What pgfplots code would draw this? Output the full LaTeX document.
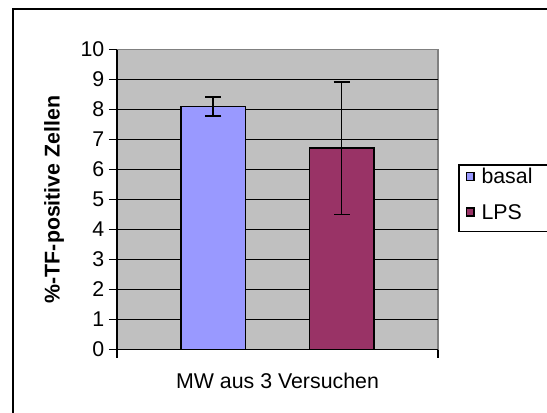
\documentclass[border=0pt]{standalone}
\usepackage{pgfplots}
\pgfplotsset{compat=1.18}
\usepackage{fontspec}
\setmainfont{Liberation Sans}
\definecolor{plotgray}{HTML}{C0C0C0}
\definecolor{framegray}{HTML}{808080}
\definecolor{basalc}{HTML}{9999FF}
\definecolor{lpsc}{HTML}{993366}
\begin{document}
\begin{tikzpicture}
\useasboundingbox (0,0) rectangle (410.25pt,309pt);
\clip (0,0) rectangle (410.25pt,309pt);
\fill[white] (0,0) rectangle (410.25pt,309pt);
\draw[line width=1.4pt] (13.3*0.75pt,-20pt) -- (13.3*0.75pt,402.7*0.75pt) -- (430pt,402.7*0.75pt);
\draw[line width=1.1pt] (430pt,247*0.75pt) -- (458.8*0.75pt,247*0.75pt) -- (458.8*0.75pt,180.3*0.75pt) -- (430pt,180.3*0.75pt);
\begin{axis}[
  at={(87.75pt,46.875pt)}, anchor=south west,
  scale only axis, width=240.75pt, height=225pt,
  xmin=0, xmax=5, ymin=0, ymax=10,
  axis lines*=left,
  axis line style={line width=1.2pt},
  axis background/.style={fill=plotgray, draw=framegray, line width=1.2pt},
  xtick={0,5}, xticklabels={,,},
  ytick={0,...,9}, extra y ticks={10}, extra y tick style={grid=none},
  ymajorgrids, grid style={black, line width=1.1pt},
  tick align=outside, major tick length=6pt,
  tick style={black, line width=1.1pt},
  ticklabel style={font=\fontsize{16}{19}\selectfont},
  /pgf/number format/assume math mode=true,
  ylabel={\bfseries\%-TF-positive Zellen},
  ylabel style={font=\fontsize{16}{19}\selectfont, at={(axis description cs:-0.196,0.5)}, anchor=center},
  xlabel={MW aus 3 Versuchen},
  xlabel style={font=\fontsize{16}{19}\selectfont, at={(axis description cs:0.5,-0.105)}, anchor=center},
  legend style={at={(axis description cs:1.082,0.618)}, anchor=north west, draw=none, fill=none,
    font=\fontsize{16}{19}\selectfont, row sep=10pt, column sep=3pt, inner sep=1pt,
    nodes={inner xsep=2pt}},
  legend cell align=left,
]
\addplot[ybar, bar width=1, bar shift=0pt, fill=basalc, draw=black, line width=1.1pt,
  legend image code/.code={\draw[fill=basalc, draw=black, line width=1.1pt] (0pt,-2.4pt) rectangle (5.6pt,3.6pt);},
  error bars/.cd, y dir=both, y explicit,
  error bar style={black, line width=1.2pt},
  error mark options={rotate=90, mark size=6pt, black, line width=1.2pt}]
  coordinates {(1.5,8.1) +- (0,0.31)};
\addlegendentry{basal}
\addplot[ybar, bar width=1, bar shift=0pt, fill=lpsc, draw=black, line width=1.1pt,
  legend image code/.code={\draw[fill=lpsc, draw=black, line width=1.1pt] (0pt,-2.4pt) rectangle (5.6pt,3.6pt);},
  error bars/.cd, y dir=both, y explicit,
  error bar style={black, line width=1.2pt},
  error mark options={rotate=90, mark size=6pt, black, line width=1.2pt}]
  coordinates {(3.5,6.71) +- (0,2.21)};
\addlegendentry{LPS}
\end{axis}
\end{tikzpicture}
\end{document}
